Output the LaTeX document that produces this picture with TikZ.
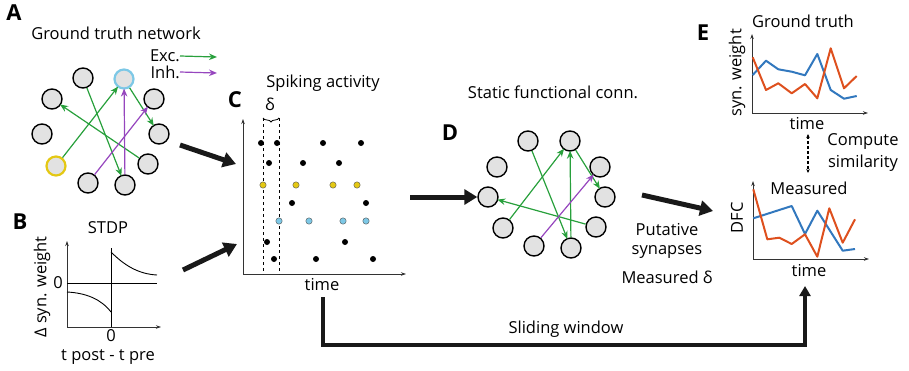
\documentclass[tikz,border=0pt]{standalone}
\usepackage{fontspec}
\setmainfont{Open Sans}
\usetikzlibrary{arrows.meta,decorations.pathreplacing}
\definecolor{exc}{RGB}{40,160,60}
\definecolor{inh}{RGB}{150,70,190}
\definecolor{cellfill}{RGB}{226,226,226}
\definecolor{cellblue}{RGB}{125,200,230}
\definecolor{cellyellow}{RGB}{228,200,20}
\definecolor{traceblue}{RGB}{50,120,190}
\definecolor{traceorange}{RGB}{222,80,30}
\tikzset{
  cell/.style={circle,draw=black,fill=cellfill,line width=1.4pt,minimum size=20pt,inner sep=0pt},
  hilite/.style={line width=2.2pt,minimum size=19pt},
  excarrow/.style={draw=exc,line width=1.2pt,-{Stealth[length=8pt,width=6.5pt]},shorten >=-1pt},
  inharrow/.style={draw=inh,line width=1.2pt,-{Stealth[length=8pt,width=6.5pt]},shorten >=-1pt},
  axis/.style={draw=black!80,line width=0.8pt,-{Stealth[length=5pt,width=3.5pt]}},
  fatarrow/.style={draw=black!90,line width=5pt,-{Triangle[length=13pt,width=15pt]}},
  lbl/.style={font=\fontsize{16.5}{18}\selectfont,inner sep=0pt},
  panel/.style={font=\fontsize{22}{24}\selectfont\bfseries,inner sep=0pt},
  spike/.style={fill=black},
  trace/.style={line width=2pt,line join=round},
}
\begin{document}
\begin{tikzpicture}[x=1pt,y=-1pt]
\useasboundingbox (0,0) rectangle (909,370);

% ---------- A: ground truth network ----------
\node[panel] (labA) at (14,13) {A};
\node[lbl] (titA) at (116,33) {Ground truth network};
\node[lbl,anchor=east] (exc) at (180,56) {Exc.};
\node[lbl,anchor=east] (inh) at (180,72) {Inh.};
\coordinate (excEnd) at (216,57);
\coordinate (inhEnd) at (216,73);
\draw[excarrow] (exc.east) -- (excEnd);
\draw[inharrow] (inh.east) -- (inhEnd);

\node[cell] (a1) at (83,78) {};
\node[cell,hilite,draw=cellblue] (a2) at (124,79) {};
\node[cell] (a3) at (52,99) {};
\node[cell] (a4) at (154,99) {};
\node[cell] (a5) at (42,134) {};
\node[cell] (a6) at (159,134) {};
\node[cell,hilite,draw=cellyellow] (a7) at (56,166) {};
\node[cell] (a8) at (148,164) {};
\node[cell] (a9) at (88,183) {};
\node[cell] (a10) at (125,185) {};
\draw[excarrow] (a7) -- (a2);
\draw[excarrow] (a1) -- (a10);
\draw[excarrow] (a8) -- (a3);
\draw[excarrow] (a2) -- (a6);
\draw[inharrow] (a10) -- (a2);
\draw[inharrow] (a9) -- (a4);

% ---------- B: STDP ----------
\node[panel] (labB) at (20,222) {B};
\node[lbl] (titB) at (108,228) {STDP};
\coordinate (bO) at (67,327);
\coordinate (bYtop) at (67,241);
\coordinate (bXend) at (161,327);
\draw[axis] (bO) -- (bYtop);
\draw[axis] (bO) -- (bXend);
\draw[line width=0.8pt] (67,283) -- (157,283);
\draw[line width=0.8pt] (111,327) -- (111,248);
\draw[line width=0.9pt] (111,252) .. controls (124,265) and (138,274) .. (157,275);
\draw[line width=0.9pt] (67,292) .. controls (86,293) and (101,299) .. (111,312);
\node[lbl] (bzero1) at (58,283) {0};
\node[lbl] (bzero2) at (111,336) {0};
\node[lbl,rotate=90] (bylab) at (42,287) {Δ syn. weight};
\node[lbl] (bxlab) at (108,357) {t post - t pre};

% ---------- C: spiking activity ----------
\node[panel] (labC) at (235,100) {C};
\node[lbl] (titC) at (323,83) {Spiking activity};
\coordinate (cO) at (243,274);
\coordinate (cYtop) at (243,119);
\coordinate (cXend) at (406,274);
\draw[axis] (cO) -- (cYtop);
\draw[axis] (cO) -- (cXend);
\draw[dashed,line width=0.8pt] (263,118) -- (263,274);
\draw[dashed,line width=0.8pt] (279,118) -- (279,274);
\draw[line width=0.8pt,decorate,decoration={brace,amplitude=4pt}] (279,118) -- (263,118);
\node[lbl] (delta) at (270,104) {δ};
\node[lbl] (ctime) at (322,285) {time};
\foreach \x in {261,277,323,361} \fill[spike] (\x,143) circle (3pt);
\foreach \x in {269,303,339} \fill[spike] (\x,163) circle (3pt);
\foreach \x in {263,296,333,357} \filldraw[fill=cellyellow,draw=black!70,line width=0.4pt] (\x,185) circle (3.2pt);
\foreach \x in {292,366} \fill[spike] (\x,203) circle (3pt);
\foreach \x in {279,309,343,366} \filldraw[fill=cellblue,draw=black!70,line width=0.4pt] (\x,221) circle (3.2pt);
\foreach \x in {267,345} \fill[spike] (\x,242) circle (3pt);
\foreach \x in {274,316,373} \fill[spike] (\x,259) circle (3pt);

% arrows from A and B into C
\coordinate (fa1s) at (180,145);
\coordinate (fa1e) at (236,164);
\coordinate (fa2s) at (183,270);
\coordinate (fa2e) at (237,244);
\draw[fatarrow] (fa1s) -- (fa1e);
\draw[fatarrow] (fa2s) -- (fa2e);

% ---------- D: static functional connectivity ----------
\node[panel] (labD) at (450,133) {D};
\node[lbl] (titD) at (553,92) {Static functional conn.};
\node[cell] (d1) at (528,141) {};
\node[cell] (d2) at (570,141) {};
\node[cell] (d3) at (497,167) {};
\node[cell] (d4) at (600,167) {};
\node[cell] (d5) at (488,197) {};
\node[cell] (d6) at (605,197) {};
\node[cell] (d7) at (503,228) {};
\node[cell] (d8) at (596,227) {};
\node[cell] (d9) at (534,246) {};
\node[cell] (d10) at (571,248) {};
\draw[excarrow] (d7) -- (d2);
\draw[excarrow] (d1) -- (d10);
\draw[excarrow] (d8) -- (d5);
\draw[excarrow] (d2) -- (d6);
\draw[excarrow] (d10) -- (d2);
\draw[inharrow] (d9) -- (d4);

\coordinate (fa3s) at (410,197);
\draw[fatarrow] (fa3s) -- (d5.west);

\node[lbl] (put1) at (667,230) {Putative};
\node[lbl] (put2) at (667,252) {synapses};
\node[lbl] (put3) at (667,277) {Measured δ};
\coordinate (fa4s) at (642,195);
\coordinate (fa4e) at (713,211);
\draw[fatarrow] (fa4s) -- (fa4e);

% ---------- E: ground truth vs measured ----------
\node[panel] (labE) at (703,33) {E};
\node[lbl] (titE1) at (803,21) {Ground truth};
\coordinate (e1O) at (752,113);
\coordinate (e1Y) at (752,34);
\coordinate (e1X) at (868,113);
\draw[axis] (e1O) -- (e1Y);
\draw[axis] (e1O) -- (e1X);
\node[lbl,rotate=90] (e1ylab) at (737,73) {syn. weight};
\node[lbl] (e1time) at (807,124) {time};
\draw[trace,traceblue] (752.7,75) -- (766,60.7) -- (778.3,69.3) -- (791.7,71.7) -- (805,75.3) -- (817.3,54) -- (830.7,90) -- (844,98.7) -- (856.7,96);
\draw[trace,traceorange] (752.7,57.3) -- (766,90) -- (778.3,83.3) -- (791.7,93.3) -- (805,84) -- (817.3,98.3) -- (830.7,48.3) -- (844,88.3) -- (856.7,76);

\coordinate (simTop) at (808,134);
\coordinate (simBot) at (808,173);
\draw[line width=1.3pt,dash pattern=on 2.5pt off 2.5pt,{Stealth[length=4pt,width=3.5pt]}-{Stealth[length=4pt,width=3.5pt]}] (simTop) -- (simBot);
\node[lbl] (comp1) at (863,142) {Compute};
\node[lbl] (comp2) at (863,163) {similarity};

\node[lbl] (titE2) at (809,188) {Measured};
\coordinate (e2O) at (753,259);
\coordinate (e2Y) at (753,181);
\coordinate (e2X) at (869,259);
\draw[axis] (e2O) -- (e2Y);
\draw[axis] (e2O) -- (e2X);
\node[lbl,rotate=90] (e2ylab) at (737,218) {DFC};
\node[lbl] (e2time) at (809,271) {time};
\draw[trace,traceblue] (753.3,218.3) -- (791.7,206) -- (805,234) -- (817.3,210.7) -- (842.7,250.7) -- (855,249);
\draw[trace,traceorange] (753.3,189.3) -- (767.3,239.3) -- (779.3,237.7) -- (791.7,244) -- (805,234.3) -- (817.3,256.7) -- (829.3,208.3) -- (842.7,242.7) -- (855,219.3);

% sliding window path from C to E
\coordinate (swStart) at (323,297);
\coordinate (swEnd) at (805,286);
\draw[draw=black!90,line width=3.2pt,-{Triangle[length=10pt,width=11pt]}] (swStart) |- (805,345) -- (swEnd);
\node[lbl] (slide) at (566,329) {Sliding window};
\end{tikzpicture}
\end{document}
